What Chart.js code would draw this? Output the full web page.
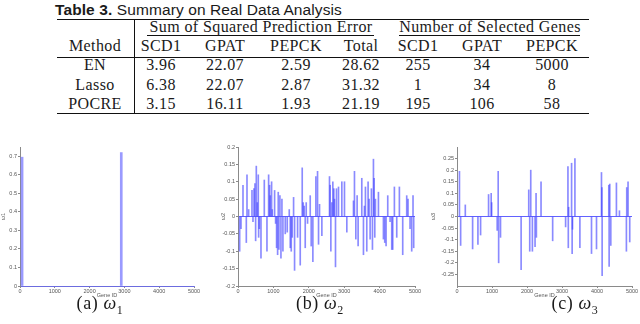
<!DOCTYPE html>
<html>
<head>
<meta charset="utf-8">
<script src="https://cdn.jsdelivr.net/npm/chart.js@4.4.0/dist/chart.umd.min.js"></script>
<style>
  body { margin: 0; background: #fff; }
  #page { position: relative; width: 640px; height: 324px; overflow: hidden; font-family: "Liberation Serif", serif; color: #1a1a1a; }
  .t { position: absolute; white-space: nowrap; font-size: 16px; line-height: 16px; transform: translateX(-50%); letter-spacing: 0.4px; }
  .rule { position: absolute; background: #111; }
  #title { position: absolute; left: 55px; top: 2px; font-family: "Liberation Sans", Arial, sans-serif; font-size: 15.5px; line-height: 15px; white-space: nowrap; letter-spacing: 0.1px; }
  canvas { position: absolute; }
  .cap { position: absolute; top: 294px; font-size: 18px; line-height: 18px; white-space: nowrap; transform: translateX(-50%); letter-spacing: 0.6px; }
  .cap sub { font-size: 12px; font-style: normal; }
</style>
</head>
<body>
<div id="page">
  <div id="title"><b>Table 3.</b> Summary on Real Data Analysis</div>
  <div id="table"></div>
  <canvas id="plotA" width="202" height="160" style="left:0px;top:140px"></canvas>
  <canvas id="plotB" width="217" height="160" style="left:206px;top:140px"></canvas>
  <canvas id="plotC" width="215" height="160" style="left:425px;top:140px"></canvas>
  <div class="cap" style="left:100px">(a) <i>ω</i><sub>1</sub></div>
  <div class="cap" style="left:320px">(b) <i>ω</i><sub>2</sub></div>
  <div class="cap" style="left:575px">(c) <i>ω</i><sub>3</sub></div>
</div>
<script>
// table contents
const methods = ["EN", "Lasso", "POCRE"];
const errCols = ["SCD1", "GPAT", "PEPCK", "Total"];
const geneCols = ["SCD1", "GPAT", "PEPCK"];
const errors = [
  ["3.96", "22.07", "2.59", "28.62"],
  ["6.38", "22.07", "2.87", "31.32"],
  ["3.15", "16.11", "1.93", "21.19"]
];
const selected = [
  ["255", "34", "5000"],
  ["1", "34", "8"],
  ["195", "106", "58"]
];

// stem plot data (gene id, weight)
const geneTicks = [0, 1000, 2000, 3000, 4000, 5000];

const idsA = [60, 2910];
const wA = [0.695, 0.72];
const ticksA = [0, 0.1, 0.2, 0.3, 0.4, 0.5, 0.6, 0.7];

const idsB = [
  47, 85, 141, 235, 254, 301, 395, 423, 451, 479,
  498, 517, 545, 573, 583, 602, 649, 743, 818, 865,
  893, 912, 949, 968, 1034, 1062, 1090, 1119, 1137, 1156,
  1184, 1213, 1241, 1269, 1335, 1391, 1448, 1476, 1504, 1532,
  1570, 1598, 1683, 1758, 1814, 1842, 1871, 1899, 1927, 1965,
  2040, 2068, 2115, 2200, 2247, 2275, 2303, 2369, 2585, 2604,
  2623, 2651, 2679, 2707, 2726, 2754, 2782, 2839, 2933, 3008,
  3074, 3262, 3290, 3328, 3365, 3393, 3497, 3544, 3572, 3600,
  3638, 3675, 3704, 3732, 3769, 3798, 3826, 3845, 3864, 3882,
  3967, 4108, 4145, 4183, 4230, 4296, 4343, 4371, 4418, 4484,
  4559, 4653, 4766, 4803, 4860, 4907, 4944, 4963
];
const wB = [
  -0.10, -0.035, 0.09, -0.075, 0.12, 0.02, 0.075, -0.015, 0.08, 0.095,
  -0.07, 0.145, 0.04, 0.12, -0.06, -0.035, -0.12, 0.105, -0.10, 0.12,
  0.09, 0.06, 0.10, 0.02, 0.075, -0.02, -0.09, -0.11, 0.07, -0.095,
  0.06, -0.12, 0.05, -0.10, -0.05, -0.045, 0.02, -0.09, -0.10, -0.06,
  0.055, -0.155, -0.06, -0.14, 0.14, 0.04, 0.03, -0.09, 0.04, -0.02,
  0.06, -0.085, -0.13, 0.115, 0.13, -0.08, 0.035, -0.055, 0.115, 0.09,
  -0.10, 0.04, 0.10, 0.08, 0.05, -0.145, 0.08, 0.085, 0.10, 0.10,
  -0.045, 0.045, 0.13, -0.065, 0.06, -0.085, 0.11, -0.11, 0.03, 0.085,
  -0.10, 0.10, 0.05, -0.065, 0.08, -0.095, 0.165, 0.11, -0.06, 0.05,
  0.07, -0.065, -0.075, -0.085, 0.06, -0.015, -0.095, -0.095, 0.085, -0.06,
  0.085, -0.11, 0.06, 0.05, -0.035, -0.10, 0.06, -0.09
];
const ticksB = [-0.2, -0.15, -0.1, -0.05, 0, 0.05, 0.1, 0.15, 0.2];

const idsC = [
  70, 104, 237, 446, 598, 674, 902, 977, 990, 1148,
  1177, 1190, 1243, 1832, 2050, 2078, 2107, 2154, 2230, 2259,
  2268, 2401, 2733, 3103, 3170, 3180, 3190, 3274, 3290, 3300,
  3369, 3511, 3843, 3986, 4128, 4140, 4147, 4337, 4347, 4365,
  4394, 4555, 4641, 4840, 4850, 4887, 4935
];
const wC = [
  0.195, -0.125, 0.05, -0.14, -0.12, -0.08, 0.095, 0.10, 0.06, -0.06,
  0.195, -0.20, -0.09, -0.23, 0.115, -0.15, 0.20, -0.15, -0.13, 0.10,
  -0.09, 0.15, -0.105, -0.045, 0.215, -0.135, 0.04, 0.23, -0.16, -0.055,
  0.25, -0.135, -0.16, -0.14, 0.19, 0.125, -0.255, 0.135, -0.215, 0.14,
  -0.125, 0.145, 0.025, -0.15, 0.125, 0.15, -0.11
];
const ticksC = [-0.25, -0.2, -0.15, -0.1, -0.05, 0, 0.05, 0.1, 0.15, 0.2, 0.25];

// ---- table ----
const tbl = document.getElementById("table");
function cell(text, x, base) {
  const d = document.createElement("div");
  d.className = "t";
  d.textContent = text;
  d.style.left = x + "px";
  d.style.top = (base - 13.4) + "px";
  tbl.appendChild(d);
}
function rule(x, y, w, h) {
  const d = document.createElement("div");
  d.className = "rule";
  d.style.left = x + "px"; d.style.top = y + "px";
  d.style.width = w + "px"; d.style.height = h + "px";
  tbl.appendChild(d);
}
const errX = [161, 225, 296, 361];
const geneX = [418, 482, 552];
const rowBase = [70.5, 90, 109.5];

rule(57, 18.5, 532, 1.6);
rule(57, 56.5, 532, 1.3);
rule(57, 112.5, 532, 1.6);
rule(134, 18.5, 1, 95.5);
rule(147, 35, 227, 1);
rule(399, 35, 181, 1);
cell("Sum of Squared Prediction Error", 261, 32.5);
cell("Number of Selected Genes", 490, 32.5);
cell("Method", 95, 51.5);
errCols.forEach((c, i) => cell(c, errX[i], 51.5));
geneCols.forEach((c, i) => cell(c, geneX[i], 51.5));
methods.forEach((m, r) => {
  cell(m, 95, rowBase[r]);
  errors[r].forEach((v, i) => cell(v, errX[i], rowBase[r]));
  selected[r].forEach((v, i) => cell(v, geneX[i], rowBase[r]));
});

// ---- stem plots ----
const tickFont = { family: "Liberation Sans, Arial, sans-serif", size: 5.5 };

function stemChart(id, ids, vals, yTicks, yMin, yMax, yLabel, o) {
  return new Chart(document.getElementById(id), {
    type: "bar",
    data: {
      datasets: [{
        data: ids.map((g, i) => ({ x: g, y: vals[i] })),
        backgroundColor: o.color,
        barThickness: o.stem,
        grouped: false
      }]
    },
    options: {
      responsive: false,
      animation: false,
      devicePixelRatio: 1,
      layout: { padding: { top: 7, right: 8, left: 0, bottom: 0 } },
      plugins: { legend: { display: false }, tooltip: { enabled: false } },
      scales: {
        x: {
          type: "linear", min: 0, max: 5000, offset: false,
          afterBuildTicks: s => { s.ticks = geneTicks.map(v => ({ value: v })); },
          afterFit: s => { s.height = 14; },
          grid: { color: "rgba(0,0,0,0)", tickColor: "#8a8a8a", tickLength: 2, offset: false },
          border: { color: o.xBorder, width: 1 },
          ticks: { font: tickFont, color: "#555", padding: 0.5, maxRotation: 0, callback: v => String(v) },
          title: { display: true, text: "Gene ID", font: tickFont, color: "#555", padding: { top: 0, bottom: 1.5 } }
        },
        y: {
          min: yMin, max: yMax,
          afterBuildTicks: s => { s.ticks = yTicks.map(v => ({ value: v })); },
          afterFit: s => { s.width = o.yWidth; },
          grid: {
            color: c => (c.tick && c.tick.value === 0) ? "rgba(70,70,255,0.85)" : "rgba(0,0,0,0)",
            tickColor: "#8a8a8a", tickLength: 2
          },
          border: { color: "#8a8a8a", width: 1 },
          ticks: { font: tickFont, color: "#555", padding: 1, callback: v => String(+v.toFixed(2)) },
          title: { display: true, text: yLabel, font: tickFont, color: "#555", padding: { top: o.titlePad, bottom: 0 } }
        }
      }
    }
  });
}

stemChart("plotA", idsA, wA, ticksA, 0, 0.75, "ω1",
  { color: "rgba(120,120,255,0.75)", stem: 2, yWidth: 20, titlePad: 0, xBorder: "rgba(110,110,220,0.9)" });
stemChart("plotB", idsB, wB, ticksB, -0.2, 0.2, "ω2",
  { color: "rgba(60,60,255,0.6)", stem: 1, yWidth: 32, titlePad: 14, xBorder: "#8a8a8a" });
stemChart("plotC", idsC, wC, ticksC, -0.3, 0.3, "ω3",
  { color: "rgba(60,60,255,0.6)", stem: 1, yWidth: 32, titlePad: 5, xBorder: "#8a8a8a" });
</script>
</body>
</html>
